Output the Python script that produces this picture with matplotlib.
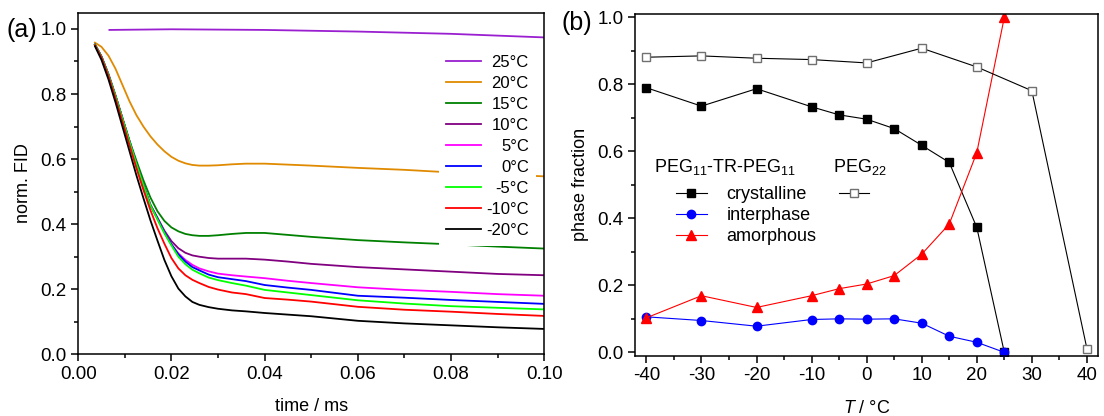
import matplotlib
matplotlib.use("Agg")
import matplotlib.pyplot as plt
from matplotlib.ticker import MultipleLocator, FormatStrFormatter
from matplotlib.lines import Line2D

plt.rcParams['font.family'] = ['Liberation Sans', 'DejaVu Sans']
plt.rcParams['mathtext.fontset'] = 'custom'
plt.rcParams['mathtext.rm'] = 'Liberation Sans'
plt.rcParams['mathtext.it'] = 'Liberation Sans:italic'
plt.rcParams['axes.unicode_minus'] = False

# ---- (a) normalised FID, time in ms
time = [0.0036, 0.005, 0.0065, 0.008, 0.0095, 0.011, 0.0125, 0.014, 0.0155, 0.017,
        0.0185, 0.020, 0.0215, 0.023, 0.0245, 0.026, 0.028, 0.030, 0.033, 0.036,
        0.040, 0.045, 0.050, 0.060, 0.070, 0.080, 0.090, 0.100]
time_25 = [0.0067, 0.020, 0.040, 0.060, 0.080, 0.100]
fid_25 = [0.997, 0.999, 0.997, 0.992, 0.985, 0.974]
fid_20 = [0.958, 0.945, 0.918, 0.878, 0.828, 0.778, 0.735, 0.700, 0.670, 0.645,
          0.624, 0.607, 0.595, 0.587, 0.582, 0.580, 0.580, 0.581, 0.584, 0.586,
          0.586, 0.583, 0.580, 0.573, 0.567, 0.559, 0.553, 0.547]
fid_15 = [0.952, 0.915, 0.860, 0.795, 0.725, 0.657, 0.595, 0.535, 0.482, 0.440,
          0.410, 0.390, 0.378, 0.370, 0.366, 0.364, 0.364, 0.366, 0.370, 0.373,
          0.373, 0.367, 0.361, 0.351, 0.344, 0.338, 0.331, 0.325]
fid_10 = [0.952, 0.915, 0.860, 0.795, 0.725, 0.655, 0.585, 0.520, 0.460, 0.420,
          0.380, 0.348, 0.326, 0.312, 0.304, 0.300, 0.296, 0.294, 0.294, 0.294,
          0.291, 0.285, 0.278, 0.268, 0.261, 0.254, 0.247, 0.243]
fid_5 = [0.952, 0.915, 0.860, 0.795, 0.725, 0.655, 0.585, 0.520, 0.458, 0.418,
         0.375, 0.338, 0.310, 0.290, 0.275, 0.264, 0.255, 0.248, 0.243, 0.239,
         0.234, 0.226, 0.219, 0.206, 0.198, 0.192, 0.185, 0.180]
fid_0 = [0.952, 0.915, 0.860, 0.795, 0.725, 0.655, 0.585, 0.520, 0.458, 0.418,
         0.375, 0.338, 0.307, 0.285, 0.268, 0.258, 0.245, 0.237, 0.231, 0.225,
         0.213, 0.205, 0.198, 0.180, 0.174, 0.167, 0.161, 0.155]
fid_m5 = [0.952, 0.915, 0.860, 0.795, 0.725, 0.655, 0.585, 0.520, 0.458, 0.415,
          0.372, 0.335, 0.300, 0.277, 0.260, 0.249, 0.236, 0.228, 0.219, 0.211,
          0.198, 0.190, 0.182, 0.166, 0.156, 0.148, 0.143, 0.138]
fid_m10 = [0.950, 0.912, 0.855, 0.787, 0.715, 0.643, 0.572, 0.505, 0.443, 0.388,
           0.340, 0.296, 0.264, 0.243, 0.229, 0.219, 0.207, 0.199, 0.190, 0.185,
           0.173, 0.168, 0.162, 0.146, 0.137, 0.131, 0.124, 0.118]
fid_m20 = [0.947, 0.905, 0.845, 0.775, 0.700, 0.625, 0.550, 0.480, 0.412, 0.350,
           0.290, 0.240, 0.202, 0.178, 0.161, 0.152, 0.145, 0.140, 0.135, 0.132,
           0.127, 0.122, 0.117, 0.103, 0.095, 0.089, 0.083, 0.078]
labels_a = ['25°C', '20°C', '15°C', '10°C', '5°C', '0°C', '-5°C', '-10°C', '-20°C']
colors_a = ['#9a1fd0', '#e08a00', '#008000', '#800080', '#ff00ff', '#0000ff',
            '#00ff00', '#ff0000', '#000000']

# ---- (b) phase fractions
T_tr = [-40, -30, -20, -10, -5, 0, 5, 10, 15, 20, 25]
crystalline = [0.790, 0.735, 0.787, 0.733, 0.709, 0.696, 0.668, 0.618, 0.567, 0.373, 0.0]
interphase = [0.106, 0.095, 0.078, 0.098, 0.100, 0.099, 0.100, 0.087, 0.048, 0.030, 0.0]
amorphous = [0.103, 0.169, 0.134, 0.169, 0.190, 0.204, 0.229, 0.293, 0.383, 0.596, 1.0]
T_peg = [-40, -30, -20, -10, 0, 10, 20, 30, 40]
peg22 = [0.881, 0.885, 0.878, 0.874, 0.864, 0.908, 0.852, 0.781, 0.011]

fig = plt.figure(figsize=(11.04, 4.16), dpi=100)
ax1 = fig.add_axes([0.0708, 0.1483, 0.4222, 0.8212])
ax2 = fig.add_axes([0.5755, 0.1450, 0.4190, 0.8213])

# panel (a)
ax1.plot(time_25, fid_25, color=colors_a[0], lw=1.3, label=labels_a[0])
for vals, lab, col in zip([fid_20, fid_15, fid_10, fid_5, fid_0, fid_m5, fid_m10, fid_m20],
                          labels_a[1:], colors_a[1:]):
    ax1.plot(time, vals, color=col, lw=1.3, label=lab)
ax1.set_xlim(0, 0.1)
ax1.set_ylim(0, 1.05)
ax1.xaxis.set_major_locator(MultipleLocator(0.02))
ax1.xaxis.set_minor_locator(MultipleLocator(0.01))
ax1.yaxis.set_major_locator(MultipleLocator(0.2))
ax1.yaxis.set_minor_locator(MultipleLocator(0.1))
ax1.xaxis.set_major_formatter(FormatStrFormatter('%.2f'))
ax1.yaxis.set_major_formatter(FormatStrFormatter('%.1f'))
ax1.set_xlabel('time / ms', fontsize=13, labelpad=11)
ax1.set_ylabel('norm. FID', fontsize=13, labelpad=6)
leg = ax1.legend(loc='upper right', bbox_to_anchor=(0.983, 0.898), fontsize=12,
                 frameon=True, fancybox=False, edgecolor='none', facecolor='white',
                 framealpha=1, handlelength=2.1, handletextpad=0.3, labelspacing=0.36,
                 borderpad=0.45, borderaxespad=0)
fig.text(0.006, 0.928, '(a)', fontsize=18, va='center')

# panel (b)
ax2.plot(T_tr, crystalline, color='black', lw=0.8, marker='s', ms=5.5)
ax2.plot(T_tr, interphase, color='#0000ff', lw=0.8, marker='o', ms=6)
ax2.plot(T_tr, amorphous, color='#ff0000', lw=0.8, marker='^', ms=7)
ax2.plot(T_peg, peg22, color='black', lw=0.8, marker='s', ms=5.5,
         mfc='white', mec='#707070')
ax2.set_xlim(-42, 42)
ax2.set_ylim(-0.01, 1.01)
ax2.xaxis.set_major_locator(MultipleLocator(10))
ax2.xaxis.set_minor_locator(MultipleLocator(5))
ax2.yaxis.set_major_locator(MultipleLocator(0.2))
ax2.yaxis.set_minor_locator(MultipleLocator(0.1))
ax2.yaxis.set_major_formatter(FormatStrFormatter('%.1f'))
ax2.set_xlabel('$T$ / °C', fontsize=13, labelpad=11)
ax2.set_ylabel('phase fraction', fontsize=13, labelpad=6)
fig.text(0.509, 0.944, '(b)', fontsize=18, va='center')

h_tr = [Line2D([], [], color='black', lw=0.8, marker='s', ms=5.5),
        Line2D([], [], color='#0000ff', lw=0.8, marker='o', ms=6),
        Line2D([], [], color='#ff0000', lw=0.8, marker='^', ms=7)]
leg_tr = ax2.legend(h_tr, ['crystalline', 'interphase', 'amorphous'], loc='upper left',
                    bbox_to_anchor=(0.0878, 0.496), fontsize=13, frameon=False,
                    handlelength=1.7, handletextpad=1.1, labelspacing=0.22,
                    borderpad=0, borderaxespad=0)
ax2.add_artist(leg_tr)
h_peg = [Line2D([], [], color='black', lw=0.8, marker='s', ms=5.5, mfc='white', mec='#707070')]
ax2.legend(h_peg, [''], loc='upper left', bbox_to_anchor=(0.4398, 0.496), fontsize=13,
           frameon=False, handlelength=1.7, handletextpad=0, borderpad=0, borderaxespad=0)
ax2.text(0.040, 0.537, 'PEG$_{11}$-TR-PEG$_{11}$', transform=ax2.transAxes, fontsize=13,
         va='baseline')
ax2.text(0.4266, 0.537, 'PEG$_{22}$', transform=ax2.transAxes, fontsize=13, va='baseline')

for ax in (ax1, ax2):
    for sp in ax.spines.values():
        sp.set_linewidth(1.1)
    ax.tick_params(which='both', direction='out', top=False, right=False,
                   labelsize=13.5, width=1.1)
    ax.tick_params(which='major', length=5)
    ax.tick_params(which='minor', length=3)

# right-align the temperature labels in legend (a)
fig.canvas.draw()
rend = fig.canvas.get_renderer()
texts = leg.get_texts()
widths = [tx.get_window_extent(rend).width for tx in texts]
for tx, w in zip(texts, widths):
    tx.set_position((max(widths) - w, 0))

fig.savefig('out.png', dpi=100)
